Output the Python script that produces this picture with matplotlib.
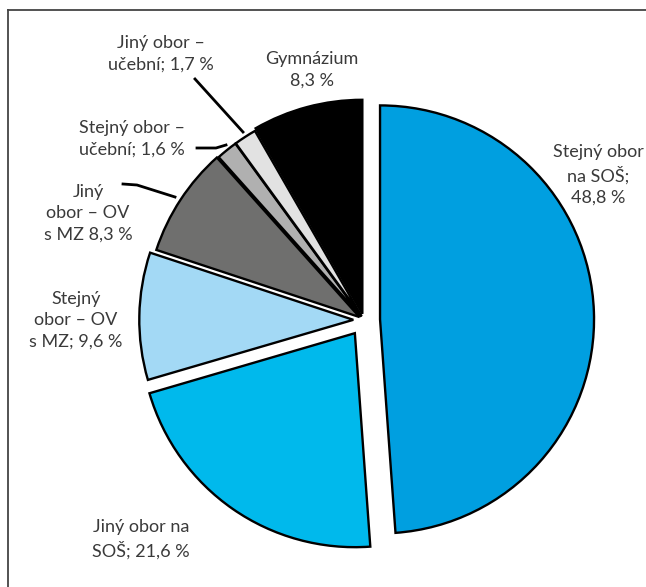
import matplotlib
matplotlib.use("Agg")
import matplotlib.pyplot as plt
from matplotlib.lines import Line2D

labels = ["Stejný obor\nna SOŠ;\n48,8 %", "Jiný obor na\nSOŠ; 21,6 %", "Stejný\nobor – OV\ns MZ; 9,6 %",
          "Jiný\nobor – OV\ns MZ 8,3 %", "Stejný obor –\nučební; 1,6 %", "Jiný obor –\nučební; 1,7 %",
          "Gymnázium\n8,3 %"]
values = [48.8, 21.6, 9.6, 8.3, 1.6, 1.7, 8.3]
colors = ["#009FE0", "#00B9EC", "#A3D9F5", "#6F6F6E", "#B0B0B0", "#E2E2E2", "#000000"]
explode = [0.075, 0.075, 0.05, 0.025, 0.02, 0.02, 0.03]

W, H = 646, 587
cx, cy, R = 364, 320, 214

fig = plt.figure(figsize=(W / 100, H / 100), dpi=100)
ax = fig.add_axes([0, 0, 1, 1])

ax.pie(values, colors=colors, explode=explode, startangle=90, counterclock=False,
       radius=1, wedgeprops=dict(edgecolor="black", linewidth=1.7))
ax.set_xlim(-cx / R, (W - cx) / R)
ax.set_ylim(-(H - cy) / R, cy / R)
ax.set_aspect("equal")
ax.axis("off")

def px(x, y):
    return x / W, 1 - y / H

# frame
fig.add_artist(Line2D([8 / W, 8 / W], [0, 1 - 10 / H], color="#444444", lw=1.3, transform=fig.transFigure))
fig.add_artist(Line2D([8 / W, 1], [1 - 10 / H, 1 - 10 / H], color="#444444", lw=1.3, transform=fig.transFigure))

font = dict(family=["Lato", "DejaVu Sans"], fontsize=13, color="#3a3a3a", ha="center", va="center",
            linespacing=1.4)
label_pos = [(598, 175), (141, 539), (76, 320), (88, 213), (132, 139), (161, 54), (312, 70)]
for lab, (x, y) in zip(labels, label_pos):
    fig.text(*px(x, y), lab, **font)

leaders = [
    [(123, 184), (137, 185), (175, 197)],
    [(197, 148), (216, 148), (226, 145)],
    [(195, 79), (243, 132)],
]
for pts in leaders:
    xs = [p[0] / W for p in pts]
    ys = [1 - p[1] / H for p in pts]
    fig.add_artist(Line2D(xs, ys, color="black", lw=2, transform=fig.transFigure))

fig.savefig("out.png", dpi=100)
